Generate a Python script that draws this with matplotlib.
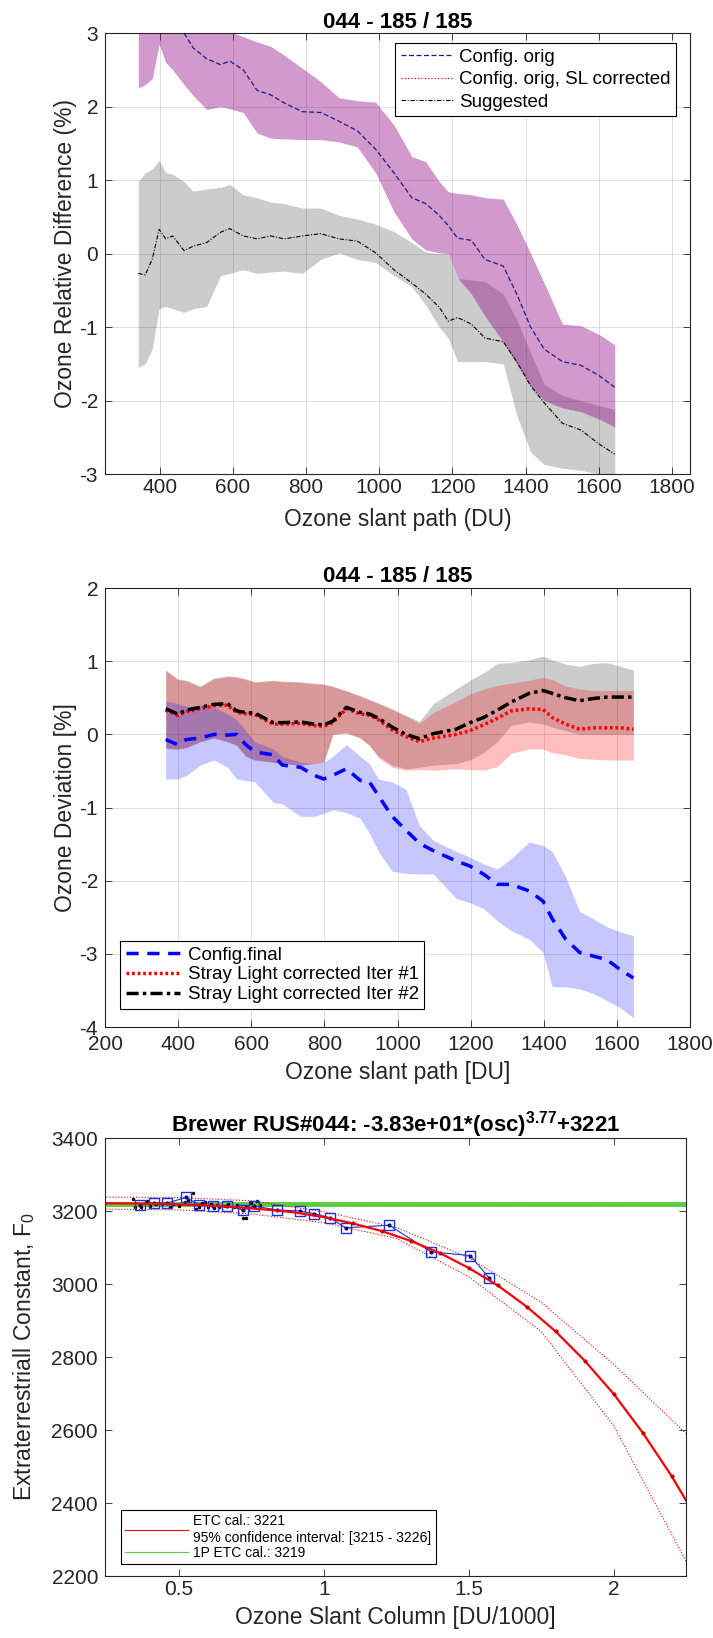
import matplotlib
matplotlib.use("Agg")
import matplotlib.pyplot as plt

plt.rcParams['font.family'] = ['Liberation Sans', 'DejaVu Sans']
plt.rcParams['mathtext.fontset'] = 'custom'
plt.rcParams['mathtext.rm'] = 'Liberation Sans'
plt.rcParams['mathtext.it'] = 'Liberation Sans:italic'
plt.rcParams['mathtext.bf'] = 'Liberation Sans:bold'
plt.rcParams['axes.unicode_minus'] = False

# ---- panel 1: relative difference vs slant path ----
x_top = [341, 360, 379, 398, 416, 435, 466, 491, 528, 566, 591, 628, 666, 703, 740, 790,
         840, 890, 940, 990, 1040, 1089, 1127, 1164, 1189, 1214, 1252, 1289, 1339, 1376,
         1414, 1451, 1501, 1551, 1601, 1644]
orig_y = [3.3, 3.35, 3.3, 3.35, 3.2, 3.12, 3.0, 2.8, 2.65, 2.57, 2.62, 2.5, 2.22, 2.16, 2.05, 1.93,
          1.92, 1.8, 1.67, 1.42, 1.1, 0.76, 0.68, 0.52, 0.38, 0.21, 0.18, -0.08, -0.17, -0.55,
          -1.0, -1.3, -1.47, -1.52, -1.66, -1.82]
orig_hi = [3.6, 3.6, 3.6, 3.6, 3.5, 3.5, 3.4, 3.3, 3.2, 3.1, 3.02, 2.95, 2.88, 2.82, 2.7, 2.52,
           2.34, 2.12, 2.08, 2.06, 1.75, 1.32, 1.25, 0.98, 0.84, 0.82, 0.8, 0.76, 0.74, 0.4,
           0.0, -0.4, -0.96, -0.98, -1.1, -1.24]
orig_lo = [2.25, 2.3, 2.38, 2.85, 2.6, 2.5, 2.3, 2.15, 1.96, 2.0, 1.97, 1.92, 1.64, 1.57, 1.56, 1.55,
           1.55, 1.52, 1.45, 1.1, 0.57, 0.2, 0.05, 0.01, 0.0, -0.33, -0.55, -0.85, -1.2, -1.5,
           -1.8, -2.0, -2.1, -2.15, -2.25, -2.36]
sugg_y = [-0.27, -0.29, -0.08, 0.33, 0.2, 0.24, 0.04, 0.1, 0.15, 0.29, 0.34, 0.24, 0.2, 0.24, 0.2, 0.24,
          0.27, 0.2, 0.17, 0.01, -0.22, -0.4, -0.55, -0.73, -0.92, -0.87, -0.96, -1.15, -1.2, -1.47,
          -1.8, -2.03, -2.31, -2.4, -2.59, -2.73]
sugg_hi = [0.98, 1.1, 1.15, 1.27, 1.1, 1.08, 0.98, 0.85, 0.88, 0.9, 0.94, 0.8, 0.76, 0.7, 0.68, 0.62,
           0.62, 0.52, 0.47, 0.4, 0.3, 0.15, 0.02, 0.0, 0.0, -0.34, -0.36, -0.38, -0.55, -0.9,
           -1.35, -1.78, -1.93, -2.0, -2.07, -2.12]
sugg_lo = [-1.55, -1.5, -1.3, -0.75, -0.72, -0.75, -0.8, -0.75, -0.72, -0.3, -0.27, -0.22, -0.27, -0.25, -0.24, -0.27,
           -0.08, 0.01, -0.08, -0.12, -0.3, -0.45, -0.7, -1.0, -1.15, -1.47, -1.47, -1.47, -1.5, -2.2,
           -2.7, -2.87, -2.92, -2.95, -3.0, -3.1]
sl_corr_x = []
sl_corr_y = []

# ---- panel 2: ozone deviation ----
x_mid = [366, 398, 423, 460, 498, 535, 560, 585, 610, 660, 685, 735, 772, 798, 823, 860, 898, 923,
         948, 985, 1023, 1060, 1098, 1160, 1198, 1235, 1273, 1310, 1360, 1398, 1423, 1460, 1498,
         1535, 1573, 1610, 1645]
final_y = [-0.07, -0.14, -0.07, -0.05, 0.0, -0.01, 0.0, -0.14, -0.24, -0.28, -0.42, -0.45, -0.56, -0.61,
           -0.56, -0.47, -0.63, -0.65, -0.84, -1.12, -1.31, -1.49, -1.59, -1.73, -1.8, -1.91, -2.05,
           -2.05, -2.14, -2.28, -2.52, -2.8, -2.98, -3.03, -3.08, -3.22, -3.33]
final_hi = [0.46, 0.42, 0.38, 0.4, 0.37, 0.28, 0.2, 0.05, -0.1, -0.2, -0.3, -0.38, -0.4, -0.38,
            -0.3, -0.14, -0.3, -0.4, -0.61, -0.65, -0.75, -1.25, -1.45, -1.6, -1.68, -1.77, -1.84,
            -1.7, -1.47, -1.52, -1.6, -1.95, -2.42, -2.52, -2.63, -2.7, -2.75]
final_lo = [-0.61, -0.61, -0.56, -0.42, -0.35, -0.45, -0.61, -0.63, -0.65, -0.93, -0.95, -1.12, -1.12, -1.08,
            -1.03, -1.07, -1.15, -1.35, -1.6, -1.87, -1.9, -1.91, -1.91, -2.24, -2.3, -2.38, -2.55,
            -2.68, -2.8, -2.98, -3.45, -3.45, -3.48, -3.54, -3.64, -3.74, -3.87]
iter1_y = [0.33, 0.26, 0.31, 0.35, 0.39, 0.4, 0.3, 0.28, 0.27, 0.14, 0.14, 0.15, 0.12, 0.11,
           0.16, 0.35, 0.28, 0.26, 0.2, 0.06, -0.03, -0.1, -0.05, 0.0, 0.05, 0.13, 0.22,
           0.32, 0.35, 0.34, 0.23, 0.14, 0.07, 0.09, 0.09, 0.09, 0.07]
iter1_hi = [0.87, 0.75, 0.73, 0.65, 0.76, 0.79, 0.78, 0.75, 0.71, 0.73, 0.72, 0.71, 0.69, 0.68,
            0.65, 0.59, 0.52, 0.47, 0.42, 0.34, 0.25, 0.15, 0.3, 0.45, 0.55, 0.62, 0.67,
            0.7, 0.74, 0.78, 0.75, 0.66, 0.62, 0.6, 0.6, 0.6, 0.6]
iter1_lo = [-0.19, -0.2, -0.18, -0.1, -0.05, -0.1, -0.15, -0.3, -0.35, -0.38, -0.4, -0.42, -0.4, -0.38,
            0.0, 0.02, -0.05, -0.15, -0.32, -0.45, -0.49, -0.48, -0.49, -0.47, -0.48, -0.49, -0.44,
            -0.26, -0.2, -0.2, -0.25, -0.28, -0.33, -0.34, -0.35, -0.35, -0.35]
iter2_y = [0.35, 0.28, 0.33, 0.37, 0.41, 0.42, 0.32, 0.3, 0.29, 0.16, 0.16, 0.17, 0.14, 0.13,
           0.18, 0.37, 0.3, 0.28, 0.22, 0.1, 0.0, -0.06, 0.01, 0.07, 0.16, 0.23, 0.33,
           0.44, 0.56, 0.6, 0.56, 0.5, 0.46, 0.49, 0.51, 0.51, 0.51]
iter2_hi = [0.88, 0.76, 0.74, 0.66, 0.77, 0.8, 0.79, 0.76, 0.72, 0.74, 0.73, 0.72, 0.7, 0.69,
            0.66, 0.6, 0.53, 0.48, 0.43, 0.35, 0.26, 0.18, 0.42, 0.62, 0.74, 0.84, 0.97,
            0.98, 1.02, 1.07, 1.02, 0.96, 0.93, 0.97, 0.98, 0.93, 0.88]
iter2_lo = [-0.19, -0.2, -0.18, -0.1, -0.05, -0.1, -0.15, -0.3, -0.35, -0.38, -0.4, -0.42, -0.4, -0.38,
            0.0, 0.02, -0.05, -0.15, -0.3, -0.42, -0.47, -0.45, -0.42, -0.4, -0.35, -0.25, -0.1,
            0.12, 0.17, 0.14, 0.1, 0.05, 0.0, 0.0, 0.0, 0.0, 0.0]

# ---- panel 3: ETC fit ----
sq_x = [0.366, 0.413, 0.46, 0.524, 0.571, 0.618, 0.665, 0.72, 0.76, 0.84, 0.917, 0.965,
        1.02, 1.075, 1.225, 1.37, 1.505, 1.571]
sq_y = [3217, 3222, 3222, 3237, 3217, 3213, 3215, 3203, 3213, 3203, 3200, 3193,
        3182, 3154, 3161, 3088, 3078, 3016]
dot_x = [0.34, 0.35, 0.37, 0.39, 0.40, 0.42, 0.44, 0.47, 0.48, 0.50, 0.52, 0.53, 0.55, 0.56,
         0.57, 0.58, 0.59, 0.60, 0.61, 0.62, 0.63, 0.64, 0.66, 0.67, 0.69, 0.70, 0.72, 0.73,
         0.73, 0.75, 0.77, 0.78]
dot_y = [3232, 3212, 3210, 3228, 3214, 3218, 3220, 3212, 3218, 3214, 3225, 3230, 3248, 3205,
         3210, 3222, 3226, 3212, 3218, 3208, 3216, 3210, 3214, 3219, 3212, 3216, 3182, 3180,
         3210, 3222, 3228, 3216]
fit_x = [0.25, 0.3, 0.4, 0.5, 0.6, 0.7, 0.8, 0.9, 1.0, 1.1, 1.2, 1.3, 1.4, 1.5, 1.6, 1.7, 1.8,
         1.9, 2.0, 2.1, 2.2, 2.25]
fit_y = [3221, 3221, 3220, 3218, 3215, 3210, 3204, 3196, 3183, 3166, 3145, 3118, 3085, 3044,
         2996, 2938, 2870, 2790, 2699, 2593, 2474, 2407]
ci_x = [0.25, 0.5, 0.75, 1.0, 1.25, 1.5, 1.75, 2.0, 2.25]
ci_hi = [3238, 3237, 3228, 3198, 3155, 3072, 2950, 2780, 2590]
ci_lo = [3205, 3203, 3192, 3168, 3125, 3020, 2870, 2612, 2240]
etc_1p = 3219
etc_ci = [3215, 3226]

edge = (0.15, 0.15, 0.15)


def style_axes(ax, grid=True, xpad=3):
    ax.tick_params(direction='in', top=True, right=True, length=5, width=0.6,
                   colors=edge, labelsize=15, labelcolor=edge)
    ax.tick_params(axis='x', pad=xpad)
    ax.tick_params(axis='y', pad=5)
    for s in ax.spines.values():
        s.set_color(edge)
        s.set_linewidth(0.8)
    if grid:
        ax.grid(True, color=(0.85, 0.85, 0.85), linewidth=0.6)
        ax.set_axisbelow(True)


fig = plt.figure(figsize=(7.13, 16.38), dpi=100)

# panel 1
ax1 = fig.add_axes([0.1473, 0.7106, 0.8205, 0.2692])
ax1.fill_between(x_top, sugg_lo, sugg_hi, color='k', alpha=0.2, linewidth=0)
ax1.fill_between(x_top, orig_lo, orig_hi, color=(0.55, 0.0, 0.5), alpha=0.4, linewidth=0)
ax1.plot(x_top, orig_y, '--', color=(0.1, 0.1, 0.55), lw=0.9, dashes=(4, 2), label='Config. orig')
ax1.plot(sl_corr_x, sl_corr_y, ':', color='red', lw=0.9, label='Config. orig, SL corrected')
ax1.plot(x_top, sugg_y, '-.', color='k', lw=0.8, dashes=(4, 1.5, 1, 1.5), label='Suggested')
ax1.set_xlim(250, 1850)
ax1.set_ylim(-3, 3)
ax1.set_xticks(range(400, 1801, 200))
ax1.set_yticks(range(-3, 4))
style_axes(ax1)
ax1.set_title('044 - 185 / 185', fontsize=16, fontweight='bold', pad=4)
ax1.set_xlabel('Ozone slant path (DU)', fontsize=16.5, labelpad=8, color=edge)
ax1.set_ylabel('Ozone Relative Difference (%)', fontsize=16.5, labelpad=2, color=edge)
leg = ax1.legend(loc='upper right', bbox_to_anchor=(0.976, 0.977), borderaxespad=0,
                 fontsize=13.5, handlelength=2.8, labelspacing=0.28, handletextpad=0.3,
                 borderpad=0.3, fancybox=False, framealpha=1, edgecolor='k')
leg.get_frame().set_linewidth(0.8)

# panel 2
ax2 = fig.add_axes([0.1473, 0.3730, 0.8205, 0.2680])
ax2.fill_between(x_mid, iter2_lo, iter2_hi, color='k', alpha=0.2, linewidth=0)
ax2.fill_between(x_mid, iter1_lo, iter1_hi, color='red', alpha=0.25, linewidth=0)
ax2.fill_between(x_mid, final_lo, final_hi, color='blue', alpha=0.22, linewidth=0)
ax2.plot(x_mid, final_y, '--', color='blue', lw=2.5, dashes=(3.5, 2.5), label='Config.final')
ax2.plot(x_mid, iter1_y, ':', color='red', lw=2.5, dashes=(0.8, 0.8), label='Stray Light corrected Iter #1')
ax2.plot(x_mid, iter2_y, '-.', color='k', lw=2.5, dashes=(3.5, 1.2, 1, 1.2), label='Stray Light corrected Iter #2')
ax2.set_xlim(200, 1800)
ax2.set_ylim(-4, 2)
ax2.set_xticks(range(200, 1801, 200))
ax2.set_yticks(range(-4, 3))
style_axes(ax2, xpad=6)
ax2.set_title('044 - 185 / 185', fontsize=16, fontweight='bold', pad=4)
ax2.set_xlabel('Ozone slant path [DU]', fontsize=16.5, labelpad=5, color=edge)
ax2.set_ylabel('Ozone Deviation [%]', fontsize=16.5, labelpad=2, color=edge)
leg = ax2.legend(loc='lower left', bbox_to_anchor=(0.026, 0.041), borderaxespad=0,
                 fontsize=13.5, handlelength=2.9, labelspacing=0.15, handletextpad=0.4,
                 borderpad=0.3, fancybox=False, framealpha=1, edgecolor='k')
leg.get_frame().set_linewidth(0.8)

# panel 3
ax3 = fig.add_axes([0.1473, 0.03785, 0.8149, 0.2674])
ax3.axhline(etc_ci[0], color=(1.0, 0.9, 0.3), lw=0.8, ls=':')
ax3.axhline(etc_ci[1], color=(1.0, 0.9, 0.3), lw=0.8, ls=':')
h_green = ax3.axhline(etc_1p, color=(0.35, 0.8, 0.25), lw=3.5, label='1P ETC cal.: 3219')
ax3.plot(ci_x, ci_hi, ':', color='red', lw=0.8)
ax3.plot(ci_x, ci_lo, ':', color='red', lw=0.8)
ax3.plot(dot_x, dot_y, '.', color='k', ms=3)
ax3.plot(sq_x, sq_y, '-s', color=(0.1, 0.2, 0.9), lw=0.8, ms=7, mfc='none', mew=1.0)
ax3.plot(sq_x, sq_y, '.', color=(0.05, 0.05, 0.4), ms=4)
h_red, = ax3.plot(fit_x, fit_y, '-', color='red', lw=1.6,
                  label='ETC cal.: 3221\n95% confidence interval: [3215 - 3226]')
ax3.plot(fit_x[9:21], fit_y[9:21], '.', color=(0.8, 0.0, 0.0), ms=4)
ax3.set_xlim(0.245, 2.25)
ax3.set_ylim(2200, 3400)
ax3.set_xticks([0.5, 1, 1.5, 2])
ax3.set_xticklabels(['0.5', '1', '1.5', '2'])
ax3.set_yticks(range(2200, 3401, 200))
style_axes(ax3, grid=False)
ax3.set_title(r'Brewer RUS#044: -3.83e+01*(osc)$^{\mathbf{3.77}}$+3221', fontsize=16,
              fontweight='bold', pad=5)
ax3.set_xlabel('Ozone Slant Column [DU/1000]', fontsize=16.5, labelpad=5, color=edge)
ax3.set_ylabel(r'Extraterrestriall Constant, F$_{\mathrm{0}}$', fontsize=16.5, labelpad=10, color=edge)
leg = ax3.legend(handles=[h_red, h_green], loc='lower left', bbox_to_anchor=(0.0275, 0.027),
                 borderaxespad=0, fontsize=10, handlelength=4.5, labelspacing=0.1,
                 handletextpad=0.4, borderpad=0.3, fancybox=False, framealpha=1, edgecolor='k')
leg.get_frame().set_linewidth(0.8)
for line in leg.get_lines():
    line.set_linewidth(0.8)

fig.savefig("out.png", dpi=100)
